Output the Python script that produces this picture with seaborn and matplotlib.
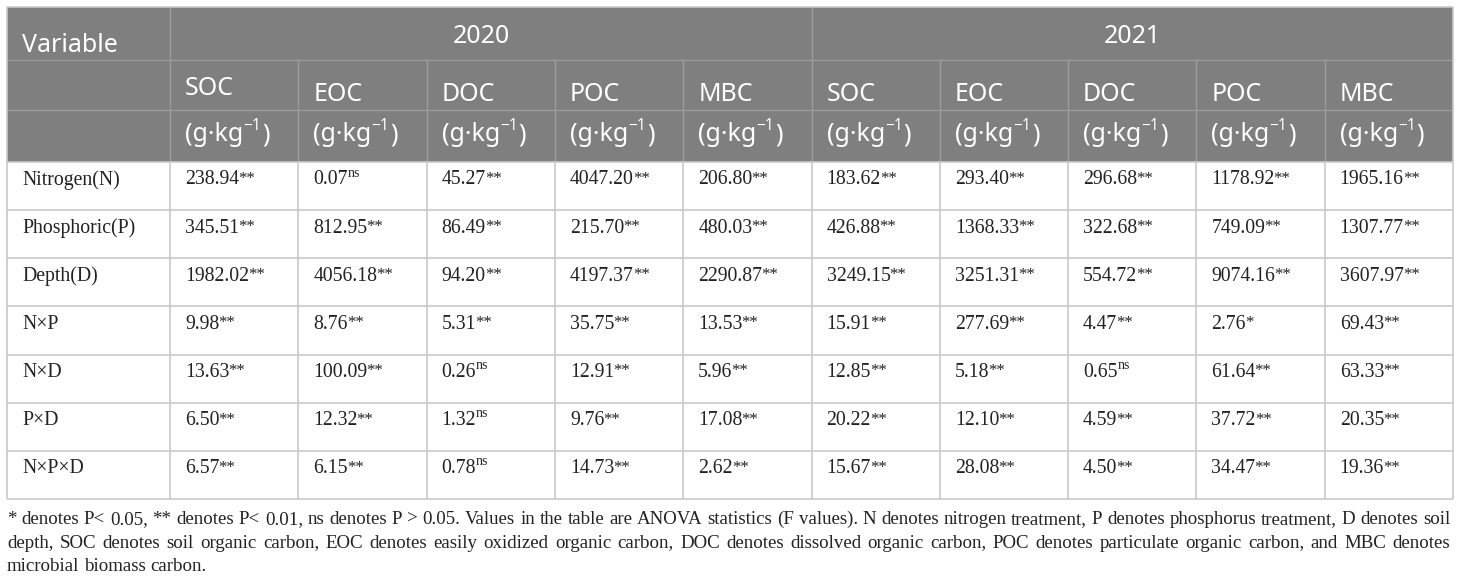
import matplotlib
matplotlib.use('Agg')
import matplotlib.pyplot as plt
import seaborn as sns

sns.set_theme(style='white')
plt.rcParams['font.family'] = ['Liberation Serif', 'DejaVu Serif']

# ---- data ----
years = ['2020', '2021']
variables = ['SOC', 'EOC', 'DOC', 'POC', 'MBC']
unit_base = '(g·kg'
unit_sup = '−1'
unit_close = ')'
row_labels = ['Nitrogen(N)', 'Phosphoric(P)', 'Depth(D)', 'N×P', 'N×D', 'P×D', 'N×P×D']

f_2020 = [
    [238.94, 0.07, 45.27, 4047.20, 206.80],
    [345.51, 812.95, 86.49, 215.70, 480.03],
    [1982.02, 4056.18, 94.20, 4197.37, 2290.87],
    [9.98, 8.76, 5.31, 35.75, 13.53],
    [13.63, 100.09, 0.26, 12.91, 5.96],
    [6.50, 12.32, 1.32, 9.76, 17.08],
    [6.57, 6.15, 0.78, 14.73, 2.62],
]
sig_2020 = [
    ['**', 'ns', '**', '**', '**'],
    ['**', '**', '**', '**', '**'],
    ['**', '**', '**', '**', '**'],
    ['**', '**', '**', '**', '**'],
    ['**', '**', 'ns', '**', '**'],
    ['**', '**', 'ns', '**', '**'],
    ['**', '**', 'ns', '**', '**'],
]
f_2021 = [
    [183.62, 293.40, 296.68, 1178.92, 1965.16],
    [426.88, 1368.33, 322.68, 749.09, 1307.77],
    [3249.15, 3251.31, 554.72, 9074.16, 3607.97],
    [15.91, 277.69, 4.47, 2.76, 69.43],
    [12.85, 5.18, 0.65, 61.64, 63.33],
    [20.22, 12.10, 4.59, 37.72, 20.35],
    [15.67, 28.08, 4.50, 34.47, 19.36],
]
sig_2021 = [
    ['**', '**', '**', '**', '**'],
    ['**', '**', '**', '**', '**'],
    ['**', '**', '**', '**', '**'],
    ['**', '**', '**', '*', '**'],
    ['**', '**', 'ns', '**', '**'],
    ['**', '**', '**', '**', '**'],
    ['**', '**', '**', '**', '**'],
]

footnote_lines = [
    '* denotes P< 0.05, ** denotes P< 0.01, ns denotes P > 0.05. Values in the table are ANOVA statistics (F values). '
    'N denotes nitrogen treatment, P denotes phosphorus treatment, D denotes soil',
    'depth, SOC denotes soil organic carbon, EOC denotes easily oxidized organic carbon, DOC denotes dissolved '
    'organic carbon, POC denotes particulate organic carbon, and MBC denotes',
    'microbial biomass carbon.',
]

# ---- layout (pixels) ----
W, H = 1460, 581
left, right = 7, 1453
var_w = 163
n_cols = len(variables) * len(years)
col_w = (right - left - var_w) / n_cols
head_y = [7, 60, 110, 162]
table_bottom = 499
row_h = (table_bottom - head_y[3]) / len(row_labels)

head_bg = '#7f7f7f'
head_line = '#9c9c9c'
grid_col = '#c9c9c9'
text_col = '#222222'
sans = ['Noto Sans', 'DejaVu Sans']
serif = ['Liberation Serif', 'DejaVu Serif']
head_fs = 18
body_fs = 14.2
foot_fs = 13.6

fig = plt.figure(figsize=(W / 100, H / 100), dpi=100)
ax = fig.add_axes([0, 0, 1, 1])
ax.set_xlim(0, W)
ax.set_ylim(H, 0)
ax.axis('off')
renderer = fig.canvas.get_renderer()


def x_end(t):
    bb = t.get_window_extent(renderer)
    return ax.transData.inverted().transform((bb.x1, bb.y0))[0]


def text_sup(x, y, base, sup, fs, color, family, sup_scale=0.72, rise=0.36, tail=None, pad=0):
    t = ax.text(x, y, base, fontsize=fs, color=color, family=family, va='baseline', ha='left')
    xe = x_end(t) + pad
    s = ax.text(xe, y - rise * fs / 0.72, sup, fontsize=fs * sup_scale, color=color,
                family=family, va='baseline', ha='left')
    if tail:
        ax.text(x_end(s) + 1, y, tail, fontsize=fs, color=color, family=family,
                va='baseline', ha='left')


# header background
ax.add_patch(plt.Rectangle((left, head_y[0]), right - left, head_y[3] - head_y[0],
                           facecolor=head_bg, edgecolor='none', zorder=0))
# header lines
ax.hlines([head_y[1], head_y[2]], left, right, colors=head_line, lw=1)
col_x = [left + var_w + i * col_w for i in range(n_cols + 1)]
ax.vlines([col_x[0], col_x[5]], head_y[0], head_y[1], colors=head_line, lw=1)
ax.vlines(col_x[:-1], head_y[1], head_y[3], colors=head_line, lw=1)

# body grid
for i in range(len(row_labels) + 1):
    y = head_y[3] + i * row_h
    ax.hlines(y, left, right, colors=grid_col, lw=1.2)
ax.vlines([left] + col_x, head_y[3], table_bottom, colors=grid_col, lw=1.2)
ax.vlines([left, right], head_y[0], head_y[3], colors=grid_col, lw=1.2)
ax.hlines(head_y[0], left, right, colors=grid_col, lw=1.2)

# header text
ax.text(left + 15, 52, 'Variable', fontsize=head_fs, color='white', family=sans,
        va='baseline', ha='left')
year_shift = [-9, 0]
for k, yr in enumerate(years):
    cx = (col_x[k * 5] + col_x[k * 5 + 5]) / 2 + year_shift[k]
    ax.text(cx, 43, yr, fontsize=head_fs, color='white', family=sans,
            va='baseline', ha='center')
for k in range(len(years)):
    for j, v in enumerate(variables):
        xi = col_x[k * 5 + j] + 15
        base_y = 95 if (k == 0 and j == 0) else 101
        ax.text(xi, base_y, v, fontsize=head_fs, color='white', family=sans,
                va='baseline', ha='left')
        text_sup(xi, 141, unit_base, unit_sup, head_fs, 'white', sans,
                 sup_scale=0.62, rise=0.42, tail=unit_close)

# body text
for i, lab in enumerate(row_labels):
    yb = head_y[3] + i * row_h + 22.5
    ax.text(left + 15, yb, lab, fontsize=body_fs, color=text_col, family=serif,
            va='baseline', ha='left')
    for k, (vals, sigs) in enumerate([(f_2020, sig_2020), (f_2021, sig_2021)]):
        for j in range(len(variables)):
            xi = col_x[k * 5 + j] + 15
            base = f'{vals[i][j]:.2f}'
            if sigs[i][j] == 'ns':
                text_sup(xi, yb, base, 'ns', body_fs, text_col, serif,
                         sup_scale=0.7, rise=0.4)
            else:
                text_sup(xi, yb, base, sigs[i][j], body_fs, text_col, serif,
                         sup_scale=0.85, rise=0.08, pad=-1)

# footnote, justified
foot_base = [524, 547.5, 571]
for li, line in enumerate(footnote_lines):
    words = line.split(' ')
    ts = [ax.text(0, foot_base[li], w, fontsize=foot_fs, color=text_col, family=serif,
                  va='baseline', ha='left') for w in words]
    widths = [x_end(t) for t in ts]
    if li < len(footnote_lines) - 1:
        gap = (right - 3 - left - sum(widths)) / (len(words) - 1)
    else:
        gap = foot_fs / 0.72 * 0.25
    x = left
    for t, w in zip(ts, widths):
        t.set_x(x)
        x += w + gap

fig.savefig('out.png', dpi=100, facecolor='white')
